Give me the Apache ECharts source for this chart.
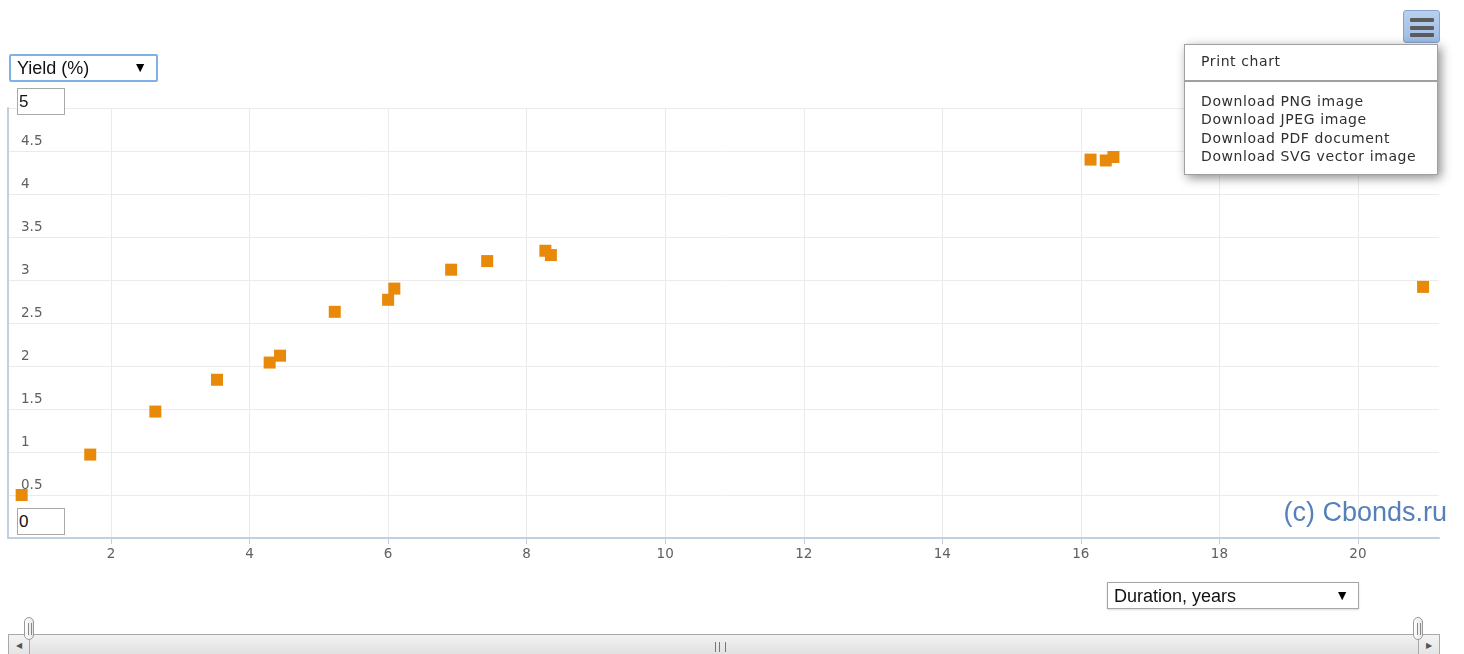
<!DOCTYPE html>
<html>
<head>
<meta charset="utf-8">
<script src="https://cdn.jsdelivr.net/npm/echarts@6/dist/echarts.min.js"></script>
<style>
  html, body { margin: 0; padding: 0; background: #fff; }
  #wrap { position: relative; width: 1464px; height: 654px; overflow: hidden; }
  #chart { position: absolute; left: 0; top: 0; width: 1464px; height: 654px; }
  .sel { position: absolute; background: #fff; box-sizing: border-box;
         font-family: "Liberation Sans", Arial, sans-serif; font-size: 18px; color: #111; }
  .sel .t { position: absolute; left: 6px; top: 3px; }
  .sel .a { position: absolute; right: 9px; top: 4px; font-size: 14px; color: #000; }
  .inp { position: absolute; width: 48px; height: 27px; box-sizing: border-box; background: #fff;
         border: 1px solid #a9a9a9; font-family: "Liberation Sans", Arial, sans-serif; font-size: 17px; color: #111;
         padding: 3px 0 0 1px; }
  #menuBtn { position: absolute; left: 1403px; top: 10px; width: 37px; height: 33px; box-sizing: border-box;
             border: 1px solid #86a3cc; border-radius: 3px; background: linear-gradient(#b9d0ee, #9fbde6); }
  #menuBtn div { position: absolute; left: 6px; width: 24px; height: 4px; background: #5c5c5c; border-radius: 1px; }
  #menu { position: absolute; left: 1184px; top: 44px; width: 254px; height: 131px; box-sizing: border-box;
          background: #fff; border: 1px solid #a0a0a0; box-shadow: 3px 3px 10px rgba(0,0,0,0.45);
          font-family: "DejaVu Sans", Verdana, sans-serif; font-size: 14px; color: #303030; letter-spacing: 0.6px; }
  #menu .it { position: absolute; left: 16px; white-space: nowrap; }
  #menu .sep { position: absolute; left: 0; right: 0; top: 35px; height: 0; border-top: 2px solid #a0a0a0; }
  #scroll { position: absolute; left: 8px; top: 634px; width: 1432px; height: 26px; box-sizing: border-box;
            border: 1px solid #a8a8a8; border-radius: 3px; background: linear-gradient(#f2f2f2, #dcdcdc); }
  .arrowBox { position: absolute; top: 634px; width: 22px; height: 26px; box-sizing: border-box;
              border: 1px solid #a8a8a8; background: linear-gradient(#f4f4f4, #e0e0e0); font-size: 8px; color: #555;
              text-align: center; line-height: 22px; font-family: "DejaVu Sans", sans-serif; }
  .handle { position: absolute; top: 617px; width: 10px; height: 23px; box-sizing: border-box;
            border: 1px solid #999; border-radius: 5px; background: linear-gradient(90deg, #fff, #e6e6e6); }
  .handle div { position: absolute; left: 3px; top: 5px; width: 2px; height: 12px; border-left: 1px solid #888; border-right: 1px solid #888; }
  #grip { position: absolute; left: 715px; top: 642px; width: 9px; height: 10px;
          border-left: 1px solid #777; border-right: 1px solid #777; }
  #grip div { position: absolute; left: 3px; top: 0; width: 1px; height: 10px; background: #777; }
</style>
</head>
<body>
<div id="wrap">
  <div id="chart"></div>

  <div class="sel" style="left:9px;top:54px;width:149px;height:28px;border:2px solid #7fb0e6;border-radius:2px;">
    <span class="t" style="top:2px">Yield (%)</span><span class="a" style="top:3px">&#9660;</span>
  </div>
  <div class="inp" style="left:17px;top:88px;">5</div>
  <div class="inp" style="left:17px;top:508px;">0</div>

  <div class="sel" style="left:1107px;top:582px;width:252px;height:27px;border:1px solid #a5a5a5;box-shadow:0 1px 2px rgba(0,0,0,0.15);">
    <span class="t">Duration, years</span><span class="a">&#9660;</span>
  </div>

  <div id="menuBtn"><div style="top:7px"></div><div style="top:15px"></div><div style="top:22px"></div></div>
  <div id="menu">
    <div class="it" style="top:8px">Print chart</div>
    <div class="sep"></div>
    <div class="it" style="top:48px">Download PNG image</div>
    <div class="it" style="top:66px">Download JPEG image</div>
    <div class="it" style="top:85px">Download PDF document</div>
    <div class="it" style="top:103px">Download SVG vector image</div>
  </div>

  <div id="scroll"></div>
  <div class="arrowBox" style="left:8px;">&#9664;</div>
  <div class="arrowBox" style="left:1418px;">&#9654;</div>
  <div id="grip"><div></div></div>
  <div class="handle" style="left:24px;"><div></div></div>
  <div class="handle" style="left:1413px;"><div></div></div>
</div>

<script>
// Duration (years) and yield (%) of each bond
const duration = [0.71, 1.70, 2.64, 3.53, 4.29, 4.44, 5.23, 6.00, 6.09, 6.91, 7.43, 8.27, 8.35, 16.14, 16.36, 16.47, 20.94];
const yieldPct = [0.50, 0.97, 1.47, 1.84, 2.04, 2.12, 2.63, 2.77, 2.90, 3.12, 3.22, 3.34, 3.29, 4.40, 4.39, 4.43, 2.92];

// Axis extents
const xMin = 0.513;
const xMax = 21.17;
const yMin = 0;
const yMax = 5;
const watermark = '(c) Cbonds.ru';

const points = duration.map((d, i) => [d, yieldPct[i]]);

const chart = echarts.init(document.getElementById('chart'), null, { renderer: 'canvas' });
chart.setOption({
  animation: false,
  backgroundColor: '#ffffff',
  title: {
    text: watermark,
    right: 17,
    top: 500,
    padding: 0,
    textStyle: { color: '#5580b8', fontSize: 27, fontWeight: 'normal', fontFamily: '"Liberation Sans", Arial, sans-serif' }
  },
  grid: { left: 8, right: 25, top: 108, bottom: 116, containLabel: false },
  xAxis: {
    type: 'value',
    min: xMin,
    max: xMax,
    minInterval: 2,
    maxInterval: 2,
    axisLine: { show: true, onZero: false, lineStyle: { color: '#c0d0e0', width: 2 } },
    axisTick: { show: true, length: 6, lineStyle: { color: '#c0d0e0', width: 1 } },
    axisLabel: {
      showMinLabel: false, showMaxLabel: false,
      color: '#606060', fontSize: 13.5, margin: 9,
      fontFamily: '"DejaVu Sans", Verdana, sans-serif'
    },
    splitLine: { show: true, showMinLine: false, showMaxLine: false, lineStyle: { color: '#ebebeb', width: 1 } }
  },
  yAxis: {
    type: 'value',
    min: yMin,
    max: yMax,
    interval: 0.5,
    axisLine: { show: true, lineStyle: { color: '#c0d0e0', width: 2 } },
    axisTick: { show: false },
    axisLabel: {
      inside: true,
      margin: 13,
      color: '#606060',
      fontSize: 13.5,
      fontFamily: '"DejaVu Sans", Verdana, sans-serif',
      verticalAlign: 'bottom',
      padding: [0, 0, 3, 0],
      formatter: v => (v === yMin || v === yMax) ? '' : String(v)
    },
    splitLine: { show: true, lineStyle: { color: '#ebebeb', width: 1 } }
  },
  series: [{
    type: 'scatter',
    data: points,
    symbol: 'rect',
    symbolSize: 12,
    itemStyle: { color: '#e8890a', opacity: 1 },
    clip: false
  }]
});
</script>
</body>
</html>
